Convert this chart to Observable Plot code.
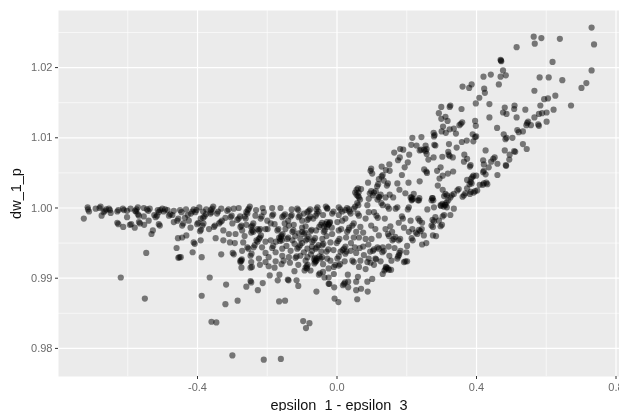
<!DOCTYPE html>
<html>
<head>
<meta charset="utf-8">
<script src="https://cdn.jsdelivr.net/npm/d3@7"></script>
<script src="https://cdn.jsdelivr.net/npm/@observablehq/plot@0.6"></script>
<style>
html,body{margin:0;padding:0;background:#fff;overflow:hidden}
svg{display:block;filter:blur(0.5px)}
</style>
</head>
<body>
<div id="chart"></div>
<script>
const xLabel = "epsilon_1 - epsilon_3";
const yLabel = "dw_1_p";
const xMajor = [-0.4, 0, 0.4, 0.8];
const xMinor = [-0.6, -0.2, 0.2, 0.6];
const yMajor = [0.98, 0.99, 1.00, 1.01, 1.02];
const yMinor = [0.985, 0.995, 1.005, 1.015, 1.025];

// each entry: [epsilon difference, dw_1_p offset from 1]
const upperArm = [[.730,.0257],[.737,.0233],[.730,.0196],[.715,.0178],[.701,.0171],[.671,.0146],[.639,.0241],[.646,.0182],[.626,.0160],[.621,.0140],[.601,.0123],[.618,.0208],[.607,.0186],[.581,.0186],[.586,.0242],[.564,.0244],[.567,.0234],[.515,.0229],[.566,.0167],[.605,.0156],[.594,.0155],[.583,.0146],[.601,.0136],[.588,.0135],[.579,.0134],[.566,.0129],[.540,.0140],[.579,.0117],[.577,.0119],[.556,.0118],[.545,.0121],[.548,.0123],[.543,.0118],[.544,.0084],[.533,.0091],[.533,.0109],[.521,.0108],[.517,.0111],[.515,.0129],[.509,.0146],[.508,.0141],[.481,.0143],[.476,.0136],[.486,.0134],[.437,.0148],[.437,.0129],[.459,.0114],[.478,.0105],[.483,.0098],[.486,.0100],[.503,.0100],[.481,.0082],[.511,.0080],[.508,.0081],[.495,.0076],[.494,.0069],[.485,.0060],[.484,.0061],[.452,.0072],[.448,.0070],[.426,.0082],[.470,.0210],[.469,.0211],[.471,.0209],[.476,.0196],[.484,.0189],[.469,.0187],[.464,.0176],[.441,.0190],[.420,.0187],[.422,.0170],[.424,.0164],[.386,.0176],[.379,.0171],[.360,.0173],[.408,.0157],[.398,.0149],[.357,.0141],[.323,.0144],[.325,.0146],[.299,.0144],[.292,.0135],[.311,.0130],[.299,.0127],[.317,.0124],[.359,.0122],[.351,.0118],[.355,.0120],[.396,.0124],[.398,.0117],[.304,.0116],[.335,.0113],[.323,.0112],[.300,.0109],[.312,.0107],[.341,.0106],[.277,.0107],[.278,.0102],[.280,.0104],[.389,.0105],[.399,.0102],[.396,.0101],[.391,.0095],[.372,.0096],[.358,.0094],[.321,.0091],[.343,.0086],[.216,.0100],[.242,.0101],[.213,.0090],[.228,.0089],[.279,.0090],[.282,.0089],[.254,.0089],[.237,.0082],[.241,.0083],[.254,.0081],[.250,.0083],[.257,.0084],[.257,.0077],[.181,.0084],[.190,.0083],[.164,.0079],[.207,.0076],[.180,.0072],[.175,.0068],[.262,.0069],[.277,.0072],[.302,.0073],[.320,.0076],[.323,.0074],[.319,.0080],[.332,.0072],[.365,.0076],[.373,.0070],[.364,.0066],[.381,.0059],[.383,.0061],[.419,.0068],[.421,.0062],[.442,.0066],[.460,.0063],[.435,.0058],[.419,.0051],[.421,.0053],[.426,.0048],[.460,.0047],[.203,.0065],[.194,.0058],[.150,.0062],[.128,.0059],[.140,.0054],[.151,.0053],[.096,.0053],[.098,.0056],[.101,.0049],[.250,.0055],[.256,.0052],[.258,.0050],[.287,.0053],[.297,.0058],[.333,.0052],[.318,.0049],[.303,.0046],[.294,.0042],[.186,.0047],[.205,.0036],[.237,.0038],[.173,.0035],[.179,.0026],[.196,.0021],[.128,.0045],[.131,.0047],[.120,.0041],[.134,.0039],[.146,.0035],[.143,.0032],[.089,.0036],[.069,.0027],[.056,.0026],[.060,.0028],[.056,.0019],[.052,.0022],[.060,.0017],[.062,.0022],[.094,.0021],[.098,.0024],[.106,.0022],[.103,.0018],[.115,.0031],[.118,.0034],[.111,.0024],[.125,.0019],[.121,.0016],[.151,.0019],[.161,.0015],[.139,.0015],[.388,.0044],[.391,.0046],[.385,.0042],[.383,.0037],[.380,.0034],[.386,.0035],[.373,.0040],[.399,.0046],[.421,.0035],[.418,.0033],[.431,.0034],[.428,.0036],[.409,.0033],[.402,.0025],[.392,.0022],[.396,.0024],[.373,.0028],[.381,.0020],[.384,.0023],[.364,.0018],[.368,.0021],[.360,.0016],[.345,.0025],[.349,.0027],[.335,.0020],[.325,.0015],[.329,.0018],[.311,.0020],[.307,.0017],[.315,.0018],[.303,.0026],[.289,.0032],[.274,.0014],[.271,.0011],[.220,.0020],[.211,.0015],[.215,.0012],[.232,.0011],[.236,.0014],[.314,.0008],[.319,.0011],[.309,.0005],[.302,.0006],[.298,.0003],[.306,.0002]];

const rightCore = [[.010,-.0002],[.015,-.0005],[.005,.0001],[.029,0],[.024,-.0003],[.034,-.0002],[.048,-.0001],[.052,.0002],[.061,.0004],[.058,.0007],[.063,.0015],[.066,.0012],[.091,.0013],[.120,.0015],[.116,.0012],[.131,.0004],[.127,.0007],[.149,-.0001],[.145,.0002],[.168,-.0001],[.087,.0004],[.091,-.0006],[.117,-.0014],[.113,-.0011],[.137,-.0015],[.106,-.0006],[.082,-.0015],[.063,-.0011],[.059,-.0008],[.039,-.0008],[.036,-.0005],[.005,-.0010],[-.014,-.0008],[-.010,-.0005],[-.028,-.0001],[-.025,-.0024],[-.021,-.0021],[-.029,-.0027],[.001,-.0020],[.024,-.0015],[.044,-.0025],[.048,-.0022],[.067,-.0027],[.098,-.0025],[.029,-.0034],[.033,-.0031],[.005,-.0032],[-.014,-.0037],[.003,-.0047],[.007,-.0044],[-.001,-.0050],[-.019,-.0049],[.026,-.0042],[.048,-.0042],[.063,-.0042],[.082,-.0044],[.099,-.0044],[.120,-.0039],[.139,-.0030],[.153,-.0026],[.158,-.0034],[.149,-.0040],[.146,-.0037],[.163,-.0044],[.167,-.0041],[.159,-.0046],[.177,-.0046],[.181,-.0044],[.189,-.0015],[.186,-.0012],[.177,-.0021],[.192,-.0028],[.211,-.0018],[.216,-.0030],[.237,-.0018],[.233,-.0015],[.244,-.0021],[.206,-.0034],[.239,-.0033],[.243,-.0030],[.235,-.0031],[.230,-.0037],[.226,-.0035],[.249,-.0039],[.217,-.0046],[.214,-.0043],[.201,-.0054],[.244,-.0052],[.256,-.0050],[.275,-.0027],[.271,-.0025],[.297,-.0026],[.301,-.0024],[.275,-.0039],[.284,-.0040],[.278,-.0019],[.274,-.0017],[.292,-.0018],[.303,-.0012],[.307,-.0010],[.282,-.0013],[.325,-.0010],[.297,.0004],[.278,.0001],[.311,.0004],[.315,.0001],[.335,-.0001],[.273,.0014],[.276,.0011],[.259,-.0002],[.206,.0001],[.203,-.0002],[.214,.0011],[.214,.0015],[.218,.0013],[.235,.0011],[.173,.0001],[.103,-.0061],[.106,-.0059],[.020,-.0058],[.024,-.0055],[.016,-.0060],[.039,-.0061],[.051,-.0056],[.065,-.0057],[.120,-.0058],[.116,-.0056],[.131,-.0056],[.130,-.0063],[.134,-.0061],[.165,-.0057],[.179,-.0064],[.182,-.0061],[.175,-.0069],[.178,-.0067],[.199,-.0063],[.156,-.0075],[.173,-.0072],[.196,-.0076],[.077,-.0067],[.055,-.0064],[.024,-.0065],[.027,-.0062],[.001,-.0072],[.005,-.0069],[-.019,-.0075],[.044,-.0075],[.067,-.0075],[.091,-.0072],[.110,-.0072],[.087,-.0077],[.125,-.0076],[.139,-.0087],[.142,-.0085],[.136,-.0089],[.140,-.0084],[.149,-.0088],[.146,-.0086],[.131,-.0094],[.155,-.0088],[.101,-.0101],[.087,-.0105],[.060,-.0098],[.055,-.0105],[.031,-.0095],[.020,-.0108],[.023,-.0106],[.017,-.0110],[.032,-.0105],[.032,-.0113],[-.022,-.0108],[-.008,-.0113],[.055,-.0117],[.069,-.0115],[.088,-.0119],[-.007,-.0129],[.004,-.0134],[.058,-.0130],[.082,-.0087],[.063,-.0084],[.048,-.0077],[.096,-.0078],[.112,-.0073],[.106,-.0081],[.192,-.0077],[.201,-.0076],[.022,-.0076],[.005,-.0082],[.009,-.0080],[-.009,-.0084],[-.005,-.0081],[-.024,-.0086],[-.009,-.0094],[-.024,-.0099],[.012,-.0030],[.040,-.0050],[.075,-.0035],[.110,-.0030],[.075,-.0055],[.010,-.0062],[-.010,-.0060],[.095,-.0062],[.148,-.0055],[.035,-.0028],[.015,-.0018],[.055,-.0034],[.090,-.0052],[.150,-.0068]];

const lowerTail = [[-.365,-.0099],[-.318,-.0109],[-.388,-.0125],[-.320,-.0137],[-.285,-.0132],[-.260,-.0112],[-.248,-.0104],[-.246,-.0106],[-.213,-.0107],[-.227,-.0117],[-.193,-.0096],[-.170,-.0103],[-.165,-.0095],[-.141,-.0102],[-.139,-.0103],[-.116,-.0103],[-.111,-.0111],[-.059,-.0119],[-.166,-.0133],[-.149,-.0132],[-.097,-.0161],[-.079,-.0164],[-.089,-.0171],[-.360,-.0162],[-.346,-.0163],[-.300,-.0210],[-.210,-.0216],[-.161,-.0215],[-.620,-.0099],[-.551,-.0129],[-.547,-.0064],[-.274,-.0085],[-.248,-.0085],[-.244,-.0084],[-.277,-.0077],[-.274,-.0075],[-.246,-.0077],[-.221,-.0081],[-.196,-.0083],[-.179,-.0085],[-.159,-.0080],[-.111,-.0081],[-.122,-.0090],[-.093,-.0089],[-.087,-.0083],[-.084,-.0081],[-.090,-.0085],[-.086,-.0086],[-.062,-.0077],[-.059,-.0075],[-.065,-.0079],[-.076,-.0089],[-.052,-.0095],[-.049,-.0093],[-.040,-.0091],[-.036,-.0099],[-.024,-.0108]];

const leftPlateau = [[-.726,-.0015],[-.714,-.0002],[-.711,-.0005],[-.715,.0001],[-.692,-.0001],[-.681,0],[-.678,.0002],[-.675,-.0011],[-.666,-.0004],[-.662,-.0002],[-.669,-.0006],[-.654,-.0001],[-.651,-.0003],[-.649,-.0007],[-.630,-.0005],[-.627,-.0003],[-.614,-.0001],[-.611,-.0003],[-.602,-.0004],[-.602,-.0013],[-.630,-.0021],[-.627,-.0023],[-.613,-.0027],[-.594,-.0024],[-.590,-.0023],[-.580,-.0028],[-.568,-.0020],[-.565,-.0022],[-.553,-.0024],[-.540,-.0018],[-.511,-.0023],[-.508,-.0025],[-.528,-.0032],[-.532,-.0037],[-.575,-.0002],[-.571,.0001],[-.579,-.0004],[-.576,-.0005],[-.592,-.0001],[-.554,0],[-.541,-.0004],[-.537,-.0001],[-.545,-.0002],[-.568,-.0011],[-.571,-.0009],[-.554,-.0012],[-.520,-.0013],[-.516,-.0011],[-.524,-.0010],[-.511,-.0006],[-.514,-.0003],[-.507,-.0003],[-.497,-.0005],[-.493,-.0002],[-.501,-.0001],[-.482,-.0011],[-.478,-.0009],[-.468,-.0004],[-.468,-.0020],[-.446,-.0006],[-.450,-.0003],[-.458,-.0018],[-.455,-.0015],[-.444,-.0025],[-.441,-.0022],[-.420,-.0028],[-.415,-.0005],[-.411,-.0002],[-.419,-.0008],[-.406,-.0006],[-.403,-.0003],[-.425,-.0018],[-.401,-.0023],[-.398,-.0021],[-.391,-.0015],[-.384,-.0005],[-.456,-.0043],[-.444,-.0042],[-.432,-.0039],[-.393,-.0033],[-.390,-.0031],[-.391,-.0046],[-.411,-.0049],[-.408,-.0051],[-.460,-.0057],[-.455,-.0071],[-.452,-.0070],[-.448,-.0070],[-.414,-.0063],[-.388,-.0070],[-.486,-.0003],[-.472,-.0010],[-.433,-.0002],[-.428,-.0010],[-.436,-.0014],[-.395,.0001],[-.375,-.0002]];

const middleCore = [[-.358,-.0001],[-.355,.0002],[-.362,-.0003],[-.380,-.0012],[-.376,-.0009],[-.384,-.0014],[-.363,-.0008],[-.360,-.0006],[-.344,-.0008],[-.341,-.0005],[-.332,-.0001],[-.315,-.0004],[-.311,-.0002],[-.296,-.0001],[-.282,0],[-.253,-.0001],[-.250,.0002],[-.256,-.0003],[-.213,0],[-.186,0],[-.162,0],[-.114,-.0001],[-.111,-.0003],[-.081,-.0004],[-.077,-.0002],[-.085,-.0006],[-.059,-.0002],[-.056,.0001],[-.028,0],[-.032,.0002],[-.257,-.0008],[-.260,-.0006],[-.282,-.0015],[-.278,-.0012],[-.286,-.0017],[-.262,-.0015],[-.265,-.0012],[-.305,-.0013],[-.302,-.0011],[-.334,-.0020],[-.330,-.0018],[-.338,-.0022],[-.353,-.0027],[-.350,-.0025],[-.367,-.0030],[-.386,-.0025],[-.383,-.0022],[-.326,-.0032],[-.277,-.0027],[-.274,-.0025],[-.272,-.0032],[-.310,-.0037],[-.291,-.0037],[-.243,-.0025],[-.240,-.0022],[-.246,-.0027],[-.234,-.0011],[-.219,-.0015],[-.216,-.0012],[-.243,-.0032],[-.240,-.0034],[-.246,-.0035],[-.224,-.0032],[-.220,-.0030],[-.228,-.0030],[-.205,-.0030],[-.221,-.0042],[-.218,-.0039],[-.224,-.0044],[-.231,-.0046],[-.228,-.0048],[-.239,-.0056],[-.236,-.0053],[-.257,-.0056],[-.254,-.0058],[-.269,-.0049],[-.272,-.0061],[-.248,-.0068],[-.245,-.0065],[-.299,-.0064],[-.296,-.0066],[-.332,-.0066],[-.348,-.0043],[-.326,-.0046],[-.307,-.0049],[-.293,-.0050],[-.277,-.0075],[-.273,-.0073],[-.224,-.0072],[-.205,-.0064],[-.186,-.0057],[-.183,-.0054],[-.162,-.0044],[-.158,-.0046],[-.166,-.0042],[-.164,-.0047],[-.160,-.0041],[-.159,-.0039],[-.156,-.0037],[-.179,-.0023],[-.199,-.0030],[-.171,-.0032],[-.168,-.0030],[-.186,-.0011],[-.183,-.0009],[-.153,-.0011],[-.149,-.0009],[-.157,-.0013],[-.133,-.0012],[-.130,-.0010],[-.110,-.0013],[-.107,-.0011],[-.081,-.0015],[-.077,-.0012],[-.085,-.0017],[-.057,-.0008],[-.053,-.0005],[-.061,-.0011],[-.033,-.0023],[-.029,-.0020],[-.037,-.0026],[-.024,-.0023],[-.020,-.0020],[-.047,-.0024],[-.043,-.0021],[-.051,-.0027],[-.100,-.0028],[-.138,-.0025],[-.124,-.0024],[-.148,-.0030],[-.128,-.0034],[-.125,-.0032],[-.095,-.0037],[-.092,-.0035],[-.076,-.0033],[-.073,-.0031],[-.143,-.0044],[-.140,-.0042],[-.128,-.0046],[-.105,-.0044],[-.085,-.0044],[-.081,-.0041],[-.089,-.0046],[-.067,-.0046],[-.063,-.0043],[-.071,-.0048],[-.042,-.0044],[-.038,-.0034],[-.035,-.0032],[-.110,-.0056],[-.106,-.0053],[-.114,-.0058],[-.122,-.0051],[-.157,-.0058],[-.133,-.0061],[-.085,-.0058],[-.057,-.0056],[-.053,-.0053],[-.061,-.0058],[-.042,-.0053],[-.039,-.0051],[-.025,-.0059],[-.071,-.0061],[-.062,-.0075],[-.058,-.0072],[-.066,-.0073],[-.063,-.0071],[-.047,-.0072],[-.043,-.0070],[-.051,-.0069],[-.085,-.0070],[-.157,-.0068],[-.138,-.0070],[-.119,-.0071],[-.116,-.0069],[-.196,-.0070],[-.205,-.0077],[-.176,-.0063],[-.095,-.0063],[-.028,-.0072],[-.153,-.0075],[-.176,-.0076],[-.210,-.0006],[-.232,-.0003],[-.200,-.0018],[-.130,-.0002],[-.140,-.0018],[-.095,-.0008],[-.100,-.0018],[-.068,-.0015],[-.040,-.0010],[-.190,-.0046],[-.205,-.0048],[-.175,-.0048],[-.145,-.0054],[-.120,-.0040],[-.100,-.0034],[-.060,-.0032],[-.030,-.0040],[-.015,-.0028],[-.090,-.0026],[-.110,-.0036],[-.150,-.0022],[-.190,-.0022],[-.215,-.0056],[-.300,-.0022],[-.320,-.0014],[-.265,-.0040],[-.260,-.0024],[-.100,-.0050],[-.072,-.0055],[-.030,-.0062],[-.045,-.0062],[-.105,-.0068],[-.135,-.0078],[-.090,-.0075],[-.040,-.0080],[-.075,-.0066]];

const rows = [upperArm, rightCore, lowerTail, leftPlateau, middleCore].flat()
  .map(([x, dy]) => ({x, y: 1 + dy}));

const plot = Plot.plot({
  width: 619, height: 376 + 35,
  marginLeft: 58, marginRight: 0, marginTop: 10, marginBottom: 35,
  style: {background: "#fff", fontFamily: "'Liberation Sans', Arial, sans-serif"},
  x: {domain: [-0.7986, 0.810], label: null},
  y: {domain: [0.976, 1.02813], label: null},
  marks: [
    Plot.frame({fill: "#EBEBEB", stroke: null}),
    Plot.ruleX(xMinor, {stroke: "#fff", strokeWidth: 0.6}),
    Plot.ruleY(yMinor, {stroke: "#fff", strokeWidth: 0.6}),
    Plot.ruleX(xMajor, {stroke: "#fff", strokeWidth: 1.2}),
    Plot.ruleY(yMajor, {stroke: "#fff", strokeWidth: 1.2}),
    Plot.axisX({ticks: xMajor, tickSize: 3, tickPadding: 4, fontSize: 11, stroke: "#333", fill: "#6a6a6a", label: null, tickFormat: d => d.toFixed(1)}),
    Plot.axisY({ticks: yMajor, tickSize: 3, tickPadding: 3, fontSize: 11, stroke: "#333", fill: "#6a6a6a", label: null, tickFormat: d => d.toFixed(2)}),
    Plot.dot(rows, {x: "x", y: "y", r: 3.1, fill: "#000", fillOpacity: 0.5, stroke: null}),
    Plot.text([xLabel], {frameAnchor: "bottom", lineAnchor: "bottom", dy: 33, fontSize: 14.5, fill: "#111"}),
    Plot.text([yLabel], {frameAnchor: "left", textAnchor: "middle", dx: -42, rotate: -90, fontSize: 14.5, fill: "#111"})
  ]
});
document.getElementById("chart").append(plot);
</script>
</body>
</html>
